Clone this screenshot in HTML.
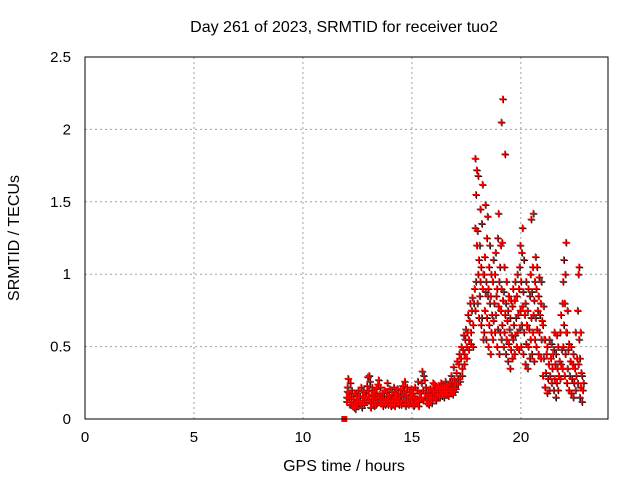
<!DOCTYPE html>
<html><head><meta charset="utf-8"><style>
body{margin:0;background:#fff;}
svg{display:block;font-family:"Liberation Sans",sans-serif;}
</style></head><body>
<svg id="chart" width="640" height="480">
<rect width="640" height="480" fill="#fff"/>
<text x="344" y="32" font-size="16" text-anchor="middle">Day 261 of 2023, SRMTID for receiver tuo2</text>
<text x="344" y="471" font-size="16" text-anchor="middle">GPS time / hours</text>
<text transform="translate(19,238) rotate(-90)" font-size="16" text-anchor="middle">SRMTID / TECUs</text>
<g id="grid"></g><g id="ticks"></g><g id="pts"></g>
<rect x="85" y="57" width="523" height="362" fill="none" stroke="#000"/>
</svg>
<script>
const xTicks=[0,5,10,15,20];
const yTicks=[0,0.5,1,1.5,2,2.5];
const yTickLabels=["0","0.5","1","1.5","2","2.5"];
const binStart=12.0, binStep=0.1;
const binValues=[
[0.15,0.22,0.28,0.12,0.19],[0.18,0.1,0.25,0.14],[0.12,0.2,0.09,0.16],[0.14,0.08,0.18,0.11],[0.1,0.17,0.13,0.07],
[0.12,0.2,0.15,0.09],[0.16,0.11,0.22,0.13],[0.1,0.15,0.19,0.08],[0.12,0.18,0.14,0.1],[0.15,0.23,0.29,0.12],
[0.2,0.3,0.26,0.14],[0.11,0.17,0.22,0.08],[0.13,0.19,0.09,0.16],[0.15,0.1,0.21,0.18],[0.14,0.24,0.27,0.12],
[0.17,0.22,0.11,0.15],[0.12,0.18,0.09,0.14],[0.16,0.2,0.1,0.13],[0.14,0.19,0.25,0.11],[0.1,0.16,0.21,0.13],
[0.15,0.09,0.19,0.12],[0.13,0.17,0.22,0.1],[0.12,0.18,0.14,0.09],[0.15,0.21,0.11,0.17],[0.1,0.16,0.2,0.13],
[0.13,0.18,0.23,0.1],[0.16,0.2,0.26,0.12],[0.12,0.17,0.22,0.09],[0.15,0.1,0.19,0.13],
[0.11,0.17,0.21,0.14],[0.13,0.18,0.09,0.15],[0.16,0.22,0.12,0.1],[0.14,0.2,0.26,0.11],[0.12,0.18,0.15,0.09],
[0.18,0.25,0.33,0.14],[0.2,0.3,0.27,0.13],[0.15,0.22,0.11,0.18],[0.13,0.19,0.1,0.16],[0.17,0.21,0.14,0.12],
[0.15,0.2,0.25,0.11],[0.18,0.24,0.14,0.2],[0.16,0.22,0.19,0.13],[0.17,0.23,0.15,0.21],[0.19,0.25,0.16,0.22],
[0.18,0.23,0.15,0.2],[0.2,0.26,0.17,0.22],[0.19,0.24,0.16,0.21],[0.21,0.26,0.18,0.23],[0.2,0.25,0.17,0.3],
[0.22,0.28,0.19,0.36],[0.25,0.32,0.4,0.21],[0.28,0.38,0.45,0.24],[0.3,0.42,0.5,0.26],[0.35,0.48,0.58,0.3],
[0.45,0.55,0.62,0.38],[0.5,0.6,0.72,0.42],[0.55,0.68,0.8,0.48],[0.6,0.75,0.84,0.52],[0.65,0.8,0.9,0.5],
[0.75,0.95,1.2,1.32,1.55,1.72,1.8],[0.8,1.0,1.1,1.3,1.68,0.7],[0.85,0.95,1.05,1.2,1.45,0.65],[0.7,0.9,1.0,1.35,1.62,0.55],[0.6,0.75,0.88,1.0,1.12,1.48],
[0.55,0.7,0.85,0.95,1.25,1.4],[0.5,0.65,0.8,0.9,1.05,1.2],[0.45,0.6,0.72,0.85,1.0],[0.55,0.68,0.8,0.95,1.1],[0.6,0.72,0.85,1.0,1.15],
[0.5,0.62,0.78,0.9,1.25,1.42],[0.45,0.6,0.75,0.95,1.05,1.2],[0.55,0.65,0.82,0.9,1.22,2.21,2.05],[0.5,0.6,0.72,0.88,1.05,1.83],[0.45,0.55,0.68,0.8,0.95],
[0.4,0.52,0.62,0.75,0.85],[0.35,0.48,0.58,0.7,0.82],[0.42,0.55,0.65,0.78,0.9],[0.45,0.58,0.7,0.82,0.95],[0.5,0.6,0.72,0.85,1.0],
[0.48,0.62,0.75,0.9,1.05,1.2],[0.5,0.65,0.78,0.95,1.15,1.32],[0.45,0.6,0.72,0.88,1.1],[0.38,0.52,0.65,0.8,0.95],[0.35,0.5,0.62,0.75,0.9],
[0.42,0.55,0.7,0.85,1.0,1.38],[0.45,0.6,0.72,0.88,1.05,1.42],[0.4,0.55,0.7,0.82,0.95,1.12],[0.5,0.62,0.75,0.9,1.05],[0.45,0.6,0.72,0.85,0.98],
[0.42,0.55,0.68,0.8,0.95],[0.3,0.42,0.55,0.65,0.78],[0.22,0.32,0.45,0.55],[0.18,0.28,0.38,0.5],[0.2,0.3,0.42,0.55],
[0.25,0.35,0.45,0.52],[0.2,0.28,0.38,0.48,0.6],[0.15,0.25,0.35,0.45,0.58],[0.2,0.3,0.4,0.5],[0.28,0.38,0.48,0.6,0.72],
[0.35,0.5,0.65,0.8,0.95,1.1],[0.3,0.45,0.6,0.8,1.0,1.22],[0.25,0.35,0.48,0.6,0.75],[0.2,0.3,0.4,0.52],[0.18,0.28,0.38,0.5],
[0.15,0.25,0.35,0.45],[0.2,0.3,0.42,0.6],[0.25,0.38,0.55,0.75,1.0,1.05],[0.15,0.22,0.32,0.42,0.6],[0.12,0.2,0.25,0.3]
];
const extraT=[11.9], extraV=[0.0];
const svg=document.getElementById('chart');
const NS='http://www.w3.org/2000/svg';
const X0=85,X1=608,Y0=419,Y1=57,XMAX=24,YMAX=2.5;
function sx(t){return X0+(X1-X0)*t/XMAX;}
function sy(v){return Y0-(Y0-Y1)*v/YMAX;}
const grid=document.getElementById('grid'),ticks=document.getElementById('ticks'),pts=document.getElementById('pts');
xTicks.forEach(t=>{
 const x=sx(t);
 if(t>0){const l=document.createElementNS(NS,'line');
 l.setAttribute('x1',x);l.setAttribute('x2',x);l.setAttribute('y1',Y1);l.setAttribute('y2',Y0);
 l.setAttribute('stroke','#a0a0a0');l.setAttribute('stroke-dasharray','2,3');
 
 
 grid.appendChild(l);}
 const tx=document.createElementNS(NS,'text');
 tx.setAttribute('x',x);tx.setAttribute('y',Y0+23);tx.setAttribute('font-size','15');tx.setAttribute('text-anchor','middle');
 tx.textContent=String(t);
 
 
 ticks.appendChild(tx);
});
yTicks.forEach((v,i)=>{
 const y=sy(v);
 if(v>0&&v<YMAX){const l=document.createElementNS(NS,'line');
 l.setAttribute('x1',X0);l.setAttribute('x2',X1);l.setAttribute('y1',y);l.setAttribute('y2',y);
 l.setAttribute('stroke','#a0a0a0');l.setAttribute('stroke-dasharray','2,3');
 
 
 grid.appendChild(l);}
 const tx=document.createElementNS(NS,'text');
 tx.setAttribute('x',X0-14);tx.setAttribute('y',y+5);tx.setAttribute('font-size','15');tx.setAttribute('text-anchor','end');
 tx.textContent=yTickLabels[i];
 
 
 ticks.appendChild(tx);
});
function plus(t,v,color,off,name){
 const x=sx(t)+off,y=sy(v)+off;
 const p=document.createElementNS(NS,'path');
 p.setAttribute('d','M'+(x-3.5)+' '+y+'H'+(x+3.5)+'M'+x+' '+(y-3.5)+'V'+(y+3.5));
 p.setAttribute('stroke',color);p.setAttribute('stroke-width','1.2');
 
 
 pts.appendChild(p);
}
['#000','#f00'].forEach((c,si)=>{
 binValues.forEach((vals,i)=>{
  vals.forEach((v,j)=>{
   const t=binStart+binStep*i+binStep*(j%3)/3;
   plus(t,v,c,si===0?0.7:0,si===0?'black-series-point':'red-series-point');
  });
 });
});
extraT.forEach((t,i)=>{
 const r=document.createElementNS(NS,'rect');
 r.setAttribute('x',sx(t)-3);r.setAttribute('y',sy(extraV[i])-3);r.setAttribute('width',6);r.setAttribute('height',6);r.setAttribute('fill','#f00');
 
 
 pts.appendChild(r);
});
</script>
</body></html>
